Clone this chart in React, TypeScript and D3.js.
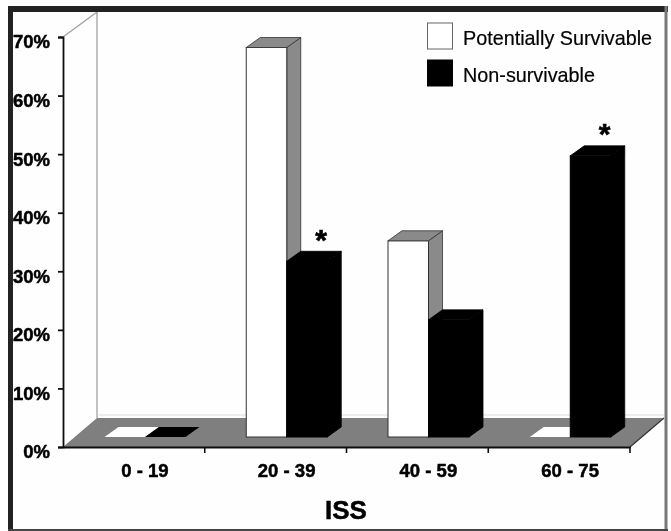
import React, { useRef, useEffect } from 'react';
import * as d3 from 'd3';

const categories = ['0 - 19', '20 - 39', '40 - 59', '60 - 75'];
const survivable = [0, 66.5, 33.5, 0];
const nonSurvivable = [0, 30, 20, 48];
const yTicks = [0, 10, 20, 30, 40, 50, 60, 70];
const seriesNames = ['Potentially Survivable', 'Non-survivable'];
const seriesValues = [survivable, nonSurvivable];
const stars = [
  { category: '20 - 39', value: 30 },
  { category: '60 - 75', value: 48 },
];

const FONT = '"Liberation Sans", Arial, sans-serif';

export default function App() {
  const width = 671;
  const height = 531;
  const svgRef = useRef<SVGSVGElement>(null);

  useEffect(() => {
    if (!svgRef.current) return;
    const svg = d3.select(svgRef.current);
    svg.selectAll('*').remove();

    const left = 63;
    const right = 630;
    const bottom = 447;
    const top = 37;
    // 3D offsets
    const wallDx = 34;
    const wallDy = 29;
    const barInsetX = 11.5;
    const barInsetY = 10;
    const barDx = 14;
    const barDy = 10;

    const x = d3.scaleBand<string>().domain(categories).range([left, right]);
    const y = d3.scaleLinear().domain([0, 70]).range([bottom, top]);
    const xSeries = d3.scaleBand<string>().domain(seriesNames).range([30, 111]);

    const defs = svg.append('defs');
    defs.append('filter').attr('id', 'scan')
      .attr('x', '-5%').attr('y', '-5%').attr('width', '110%').attr('height', '110%')
      .append('feGaussianBlur').attr('stdDeviation', 0.5);

    const g = svg.append('g').attr('filter', 'url(#scan)');
    const line = d3.line();

    g.append('rect').attr('x', 8).attr('y', 6).attr('width', 660).attr('height', 525).attr('fill', '#fefefe');

    // back wall edges
    g.append('path')
      .attr('d', line([[left, top], [left + wallDx, top - 25], [left + wallDx, bottom - wallDy]]))
      .attr('fill', 'none').attr('stroke', '#a0a0a0').attr('stroke-width', 1.3);

    // floor
    g.append('path')
      .attr('d', line([[left, bottom], [left + wallDx, bottom - wallDy], [right + wallDx, bottom - wallDy], [right, bottom]]) + 'Z')
      .attr('fill', '#7f7f7f');
    g.append('path')
      .attr('d', line([[left + wallDx, bottom - wallDy - 3], [right + wallDx, bottom - wallDy - 3]]))
      .attr('stroke', '#dcdcdc').attr('stroke-width', 1);
    g.append('path')
      .attr('d', line([[right, bottom], [right + wallDx, bottom - wallDy]]))
      .attr('stroke', '#333').attr('stroke-width', 1.2);

    // bars
    categories.forEach((cat, i) => {
      seriesNames.forEach((name, s) => {
        const value = seriesValues[s][i];
        const isWhite = s === 0;
        const x0 = (x(cat) as number) + (xSeries(name) as number) + barInsetX;
        const x1 = x0 + xSeries.bandwidth();
        const yBase = y(0) - barInsetY;
        const yTop = y(value) - barInsetY;
        const sideColor = isWhite ? '#8a8a8a' : '#000';
        const bar = g.append('g');
        if (value > 0) {
          bar.append('path')
            .attr('d', line([[x1, yTop], [x1 + barDx, yTop - barDy], [x1 + barDx, yBase - barDy], [x1, yBase]]) + 'Z')
            .attr('fill', sideColor).attr('stroke', isWhite ? '#333' : '#000').attr('stroke-width', 0.8);
          bar.append('rect')
            .attr('x', x0).attr('y', yTop)
            .attr('width', x1 - x0).attr('height', yBase - yTop)
            .attr('fill', isWhite ? '#fff' : '#000')
            .attr('stroke', isWhite ? '#333' : '#000').attr('stroke-width', 1);
        }
        bar.append('path')
          .attr('d', line([[x0, yTop], [x0 + barDx, yTop - barDy], [x1 + barDx, yTop - barDy], [x1, yTop]]) + 'Z')
          .attr('fill', value > 0 ? sideColor : isWhite ? '#fff' : '#000')
          .attr('stroke', value > 0 ? (isWhite ? '#333' : '#000') : 'none').attr('stroke-width', 0.8);
      });
    });

    // y axis
    const yAxis = g.append('g')
      .attr('transform', `translate(${left},0)`)
      .call(d3.axisLeft(y).tickValues(yTicks).tickFormat(d => `${d}%`).tickSize(5).tickPadding(8));
    yAxis.select('.domain').attr('stroke', '#111').attr('stroke-width', 1.8);
    yAxis.selectAll('.tick line').attr('stroke', '#111').attr('stroke-width', 1.8);
    yAxis.selectAll('text')
      .attr('fill', '#000').attr('stroke', '#000').attr('stroke-width', 0.5)
      .attr('transform', 'translate(0,5)')
      .style('font-family', FONT).style('font-size', '18.5px').style('font-weight', 'bold');

    // x axis, labels follow the bars and ticks sit on the band edges
    const xAxis = g.append('g')
      .attr('transform', `translate(0,${bottom})`)
      .call(d3.axisBottom(x).tickSize(0).tickPadding(17));
    xAxis.select('.domain').attr('stroke', '#111').attr('stroke-width', 2);
    xAxis.selectAll('text')
      .attr('fill', '#000').attr('stroke', '#000').attr('stroke-width', 0.5)
      .attr('transform', 'translate(11,0)')
      .style('font-family', FONT).style('font-size', '18.5px').style('font-weight', 'bold');
    [...categories.slice(1).map(c => x(c) as number), right].forEach(tx => {
      xAxis.append('line')
        .attr('x1', tx).attr('x2', tx).attr('y1', 0).attr('y2', 6)
        .attr('stroke', '#111').attr('stroke-width', 1.6);
    });

    // axis title
    g.append('text')
      .attr('x', 346).attr('y', 519).attr('text-anchor', 'middle')
      .attr('fill', '#000').attr('stroke', '#000').attr('stroke-width', 0.5)
      .style('font-family', FONT).style('font-size', '26px').style('font-weight', 'bold')
      .text('ISS');

    // significance stars
    stars.forEach(st => {
      const sx = (x(st.category) as number) + (xSeries(seriesNames[1]) as number) + barInsetX + xSeries.bandwidth() / 2 + barDx;
      g.append('text')
        .attr('x', sx).attr('y', y(st.value) - barInsetY - barDy - 12).attr('text-anchor', 'middle')
        .attr('fill', '#000').attr('stroke', '#000').attr('stroke-width', 0.6)
        .style('font-family', FONT).style('font-size', '30px').style('font-weight', 'bold')
        .attr('dy', '0.35em')
        .text('*');
    });

    // legend
    const legendY = d3.scalePoint<string>().domain(seriesNames).range([23, 60]);
    seriesNames.forEach((name, s) => {
      const ly = legendY(name) as number;
      g.append('rect')
        .attr('x', 427.5).attr('y', ly).attr('width', 25).attr('height', 26)
        .attr('fill', s === 0 ? '#fff' : '#000')
        .attr('stroke', s === 0 ? '#666' : '#000').attr('stroke-width', 1);
      g.append('text')
        .attr('x', 463).attr('y', ly + 21.5)
        .attr('fill', '#000').attr('stroke', '#000').attr('stroke-width', 0.2)
        .style('font-family', FONT).style('font-size', '19.8px')
        .text(name);
    });

    // scanned frame, drawn last because it clips the tick labels
    g.append('rect').attr('x', 8).attr('y', 6).attr('width', 5).attr('height', 525).attr('fill', '#222');
    g.append('rect').attr('x', 8).attr('y', 6).attr('width', 660).attr('height', 6).attr('fill', '#222');
    g.append('rect').attr('x', 664.5).attr('y', 6).attr('width', 3).attr('height', 525).attr('fill', '#777');
    g.append('rect').attr('x', 8).attr('y', 529).attr('width', 660).attr('height', 2).attr('fill', '#444');
  }, []);

  return (
    <svg ref={svgRef} width={width} height={height} style={{ position: 'absolute', left: 0, top: 0, background: '#fff' }} />
  );
}
